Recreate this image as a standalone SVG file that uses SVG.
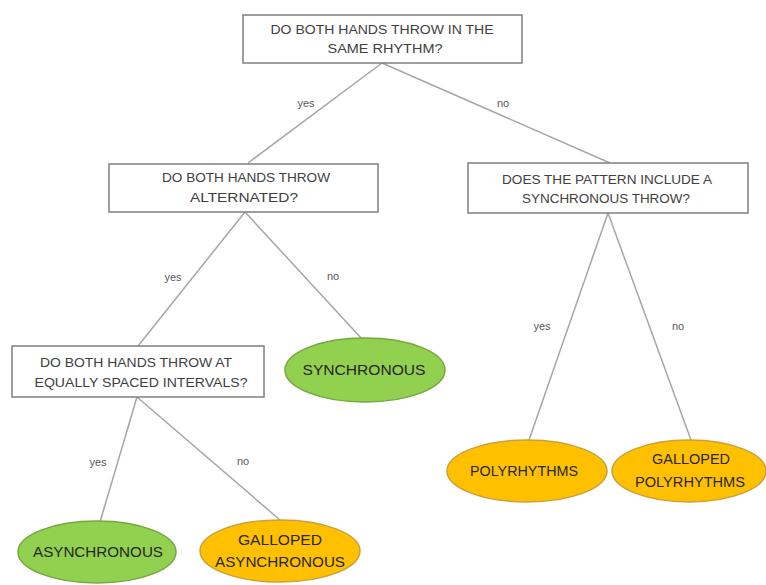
<svg xmlns="http://www.w3.org/2000/svg" width="766" height="585" viewBox="0 0 766 585">
<style>
.box{fill:#fff;stroke:#7f7f7f;stroke-width:1.5}
.q{font-family:"Liberation Sans",Arial,sans-serif;font-size:13px;fill:#404040;text-anchor:middle}
.lbl{font-family:"Liberation Sans",Arial,sans-serif;font-size:11px;fill:#595959;text-anchor:middle}
.green{fill:#92d050;stroke:#74a83e;stroke-width:1.5}
.orange{fill:#ffc000;stroke:#c9a03a;stroke-width:1.5}
.t{font-family:"Liberation Sans",Arial,sans-serif;font-size:14px;fill:#262626;text-anchor:middle}
.c{stroke:#a6a6a6;stroke-width:1.5;fill:none}
</style>
<rect width="766" height="585" fill="#fff"/>
<g id="connectors">
<line class="c" x1="382" y1="63" x2="248" y2="163"/>
<line class="c" x1="382" y1="63" x2="610" y2="163"/>
<line class="c" x1="245" y1="212" x2="138" y2="346"/>
<line class="c" x1="245" y1="212" x2="362" y2="339"/>
<line class="c" x1="608" y1="213" x2="529" y2="440"/>
<line class="c" x1="608" y1="213" x2="691" y2="440"/>
<line class="c" x1="137" y1="397" x2="100" y2="522"/>
<line class="c" x1="137" y1="397" x2="280" y2="520"/>
<text class="lbl" x="306" y="107">yes</text>
<text class="lbl" x="503" y="107">no</text>
<text class="lbl" x="173" y="281">yes</text>
<text class="lbl" x="333" y="280">no</text>
<text class="lbl" x="98" y="466">yes</text>
<text class="lbl" x="243" y="465">no</text>
<text class="lbl" x="542" y="330">yes</text>
<text class="lbl" x="678" y="330">no</text>
</g>
<g id="q1">
<rect class="box" x="243" y="15" width="279" height="48"/>
<text class="q" x="382" y="34" textLength="223" lengthAdjust="spacingAndGlyphs">DO BOTH HANDS THROW IN THE</text>
<text class="q" x="385" y="53" textLength="115" lengthAdjust="spacingAndGlyphs">SAME RHYTHM?</text>
</g>
<g id="q2">
<rect class="box" x="109" y="164" width="269" height="48"/>
<text class="q" x="246" y="182" textLength="168" lengthAdjust="spacingAndGlyphs">DO BOTH HANDS THROW</text>
<text class="q" x="244" y="202" textLength="108" lengthAdjust="spacingAndGlyphs">ALTERNATED?</text>
</g>
<g id="q3">
<rect class="box" x="468" y="163" width="280" height="50"/>
<text class="q" x="607" y="184" textLength="210" lengthAdjust="spacingAndGlyphs">DOES THE PATTERN INCLUDE A</text>
<text class="q" x="606" y="203" textLength="168" lengthAdjust="spacingAndGlyphs">SYNCHRONOUS THROW?</text>
</g>
<g id="q4">
<rect class="box" x="12" y="346" width="252" height="51"/>
<text class="q" x="136" y="367" textLength="192" lengthAdjust="spacingAndGlyphs">DO BOTH HANDS THROW AT</text>
<text class="q" x="141" y="387" textLength="213" lengthAdjust="spacingAndGlyphs">EQUALLY SPACED INTERVALS?</text>
</g>
<g id="synchronous">
<ellipse class="green" cx="365" cy="370" rx="80" ry="32"/>
<text class="t" x="364" y="375" textLength="123" lengthAdjust="spacingAndGlyphs">SYNCHRONOUS</text>
</g>
<g id="asynchronous">
<ellipse class="green" cx="97" cy="552" rx="79" ry="31"/>
<text class="t" x="98" y="557" textLength="130" lengthAdjust="spacingAndGlyphs">ASYNCHRONOUS</text>
</g>
<g id="galloped-asynchronous">
<ellipse class="orange" cx="280" cy="551" rx="80" ry="31"/>
<text class="t" x="280" y="545" textLength="84" lengthAdjust="spacingAndGlyphs">GALLOPED</text>
<text class="t" x="280" y="567" textLength="130" lengthAdjust="spacingAndGlyphs">ASYNCHRONOUS</text>
</g>
<g id="polyrhythms">
<ellipse class="orange" cx="527" cy="471" rx="80" ry="31"/>
<text class="t" x="524" y="476" textLength="108" lengthAdjust="spacingAndGlyphs">POLYRHYTHMS</text>
</g>
<g id="galloped-polyrhythms">
<ellipse class="orange" cx="689" cy="471" rx="77" ry="31"/>
<text class="t" x="691" y="464" textLength="78" lengthAdjust="spacingAndGlyphs">GALLOPED</text>
<text class="t" x="690" y="487" textLength="110" lengthAdjust="spacingAndGlyphs">POLYRHYTHMS</text>
</g>
</svg>
